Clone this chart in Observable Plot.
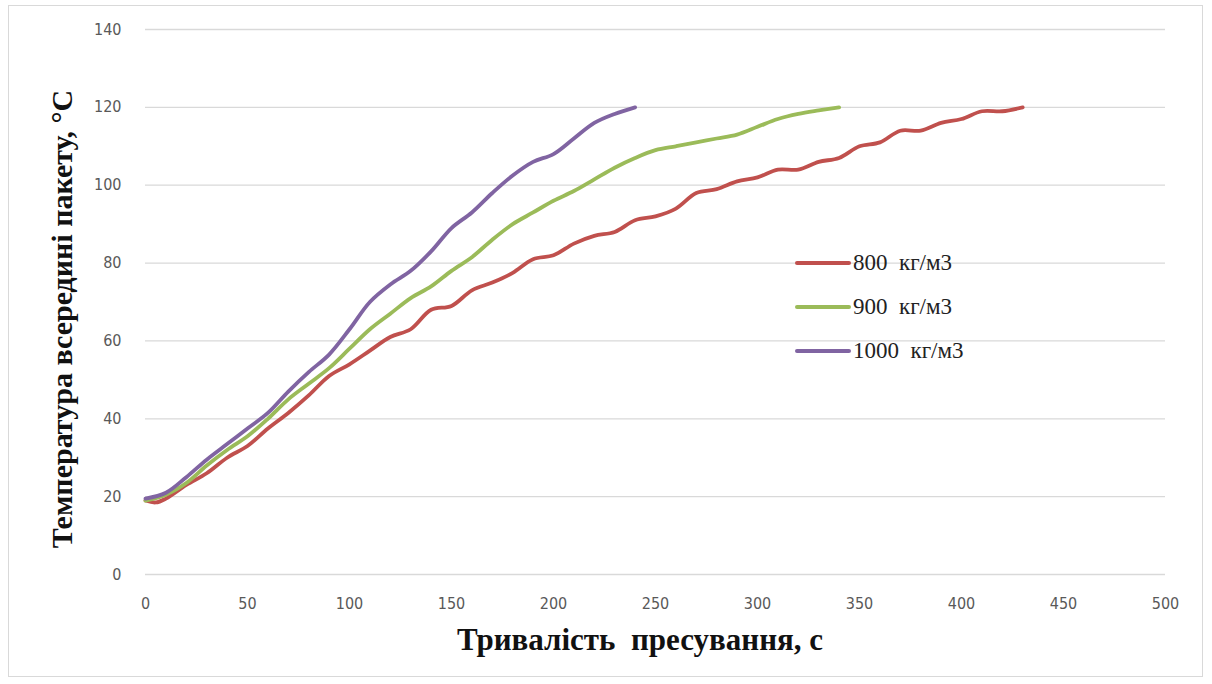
<!DOCTYPE html>
<html>
<head>
<meta charset="utf-8">
<script src="https://cdn.jsdelivr.net/npm/d3@7"></script>
<script src="https://cdn.jsdelivr.net/npm/@observablehq/plot@0.6"></script>
<style>
  html, body { margin: 0; padding: 0; background: #fff; }
  #wrap { position: relative; width: 1212px; height: 684px; overflow: hidden; }
  #frame { position: absolute; left: 8px; top: 5px; width: 1195px; height: 672px; border: 1px solid #d9d9d9; box-sizing: border-box; }
  .title { position: absolute; font-family: "Liberation Serif", serif; font-weight: bold; color: #111; white-space: pre; }
  #xt { left: 0; width: 1280px; top: 622px; text-align: center; font-size: 31px; }
  #yt { left: 62px; top: 319px; transform: translate(-50%, -50%) rotate(-90deg); font-size: 30px; }
  #legend { position: absolute; left: 795px; top: 241px; font-family: "Liberation Serif", serif; font-size: 23px; color: #222; white-space: pre; }
  .li { display: flex; align-items: center; height: 44px; }
  .sw { width: 56px; height: 4px; margin-right: 2px; border-radius: 2px; }
</style>
</head>
<body>
<div id="wrap">
  <div id="frame"></div>
  <div id="chart"></div>
  <div class="title" id="xt">Тривалість  пресування, с</div>
  <div class="title" id="yt">Температура всередині пакету, °С</div>
  <div id="legend"></div>
</div>
<script>
const seriesNames = ["800  кг/м3", "900  кг/м3", "1000  кг/м3"];
const seriesColors = ["#C0504D", "#9BBB59", "#8064A2"];

const t800 = [0, 5, 10, 20, 30, 40, 50, 60, 70, 80, 90, 100, 110, 120, 130, 140, 150, 160, 170, 180, 190, 200, 210, 220, 230, 240, 250, 260, 270, 280, 290, 300, 310, 320, 330, 340, 350, 360, 370, 380, 390, 400, 410, 420, 430];
const v800 = [19, 18.5, 19.5, 23, 26, 30, 33, 37.5, 41.5, 46, 51, 54, 57.5, 61, 63, 68, 69, 73, 75, 77.5, 81, 82, 85, 87, 88, 91, 92, 94, 98, 99, 101, 102, 104, 104, 106, 107, 110, 111, 114, 114, 116, 117, 119, 119, 120];

const t900 = [0, 10, 20, 30, 40, 50, 60, 70, 80, 90, 100, 110, 120, 130, 140, 150, 160, 170, 180, 190, 200, 210, 220, 230, 240, 250, 260, 270, 280, 290, 300, 310, 320, 330, 340];
const v900 = [19, 20.5, 23.5, 28, 32, 35.5, 40, 45, 49, 53, 58, 63, 67, 71, 74, 78, 81.5, 86, 90, 93, 96, 98.5, 101.5, 104.5, 107, 109, 110, 111, 112, 113, 115, 117, 118.3, 119.2, 120];

const t1000 = [0, 10, 20, 30, 40, 50, 60, 70, 80, 90, 100, 110, 120, 130, 140, 150, 160, 170, 180, 190, 200, 210, 220, 230, 240];
const v1000 = [19.5, 21, 25, 29.5, 33.5, 37.5, 41.5, 47, 52, 56.5, 63, 70, 74.5, 78, 83, 89, 93, 98, 102.5, 106, 108, 112, 116, 118.3, 120];

const xTicks = [0, 50, 100, 150, 200, 250, 300, 350, 400, 450, 500];
const yTicks = [0, 20, 40, 60, 80, 100, 120, 140];

const data = [
  ...t800.map((t, i) => ({t, v: v800[i], s: seriesNames[0]})),
  ...t900.map((t, i) => ({t, v: v900[i], s: seriesNames[1]})),
  ...t1000.map((t, i) => ({t, v: v1000[i], s: seriesNames[2]}))
];

const chart = Plot.plot({
  width: 1212,
  height: 684,
  marginLeft: 145,
  marginRight: 47,
  marginTop: 29,
  marginBottom: 110,
  style: { fontFamily: "'Liberation Sans Narrow', 'DejaVu Sans Condensed', 'Liberation Sans', sans-serif", fontSize: "16px", color: "#595959", background: "transparent" },
  x: { domain: [0, 500], ticks: xTicks, label: null },
  y: { domain: [0, 140], ticks: yTicks, label: null },
  color: { domain: seriesNames, range: seriesColors },
  marks: [
    Plot.gridY(yTicks, { stroke: "#d9d9d9", strokeOpacity: 1, strokeWidth: 1.3 }),
    Plot.axisX(xTicks, { tickSize: 0, tickPadding: 23, fill: "#595959" }),
    Plot.axisY(yTicks, { tickSize: 0, tickPadding: 24, fill: "#595959" }),
    Plot.line(data, { x: "t", y: "v", z: "s", stroke: "s", strokeWidth: 3.8, curve: "catmull-rom" })
  ]
});
chart.style.position = "absolute";
chart.style.left = "0";
chart.style.top = "0";
document.getElementById("chart").appendChild(chart);

const legend = document.getElementById("legend");
seriesNames.forEach((n, i) => {
  const row = document.createElement("div");
  row.className = "li";
  const sw = document.createElement("div");
  sw.className = "sw";
  sw.style.background = seriesColors[i];
  const lab = document.createElement("span");
  lab.textContent = n;
  row.appendChild(sw);
  row.appendChild(lab);
  legend.appendChild(row);
});
</script>
</body>
</html>
